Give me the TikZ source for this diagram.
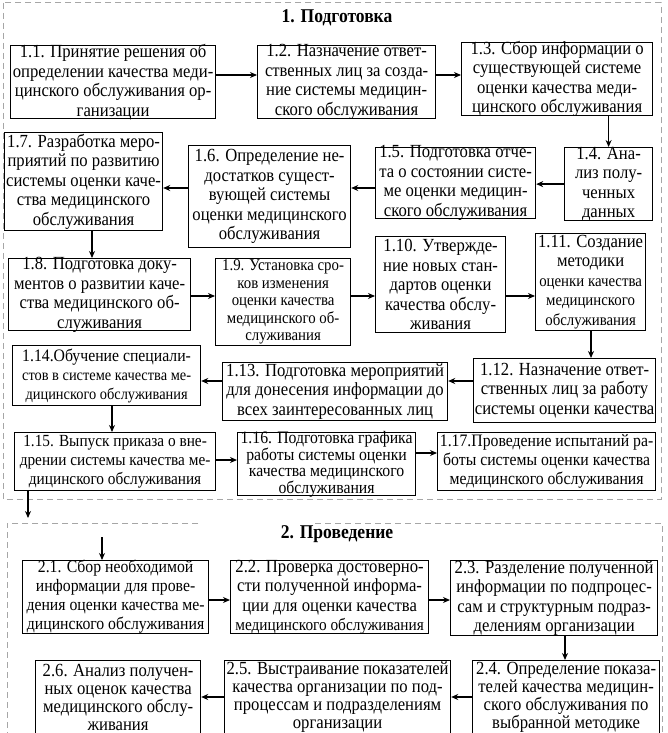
\documentclass[tikz,border=0pt]{standalone}
\usepackage{fontspec}
\setmainfont[FakeStretch=0.9]{Liberation Serif}
\usetikzlibrary{arrows.meta}
\newcommand\szA{\fontsize{18.5}{19.5}\selectfont}
\newcommand\szB{\fontsize{16.5}{17.5}\selectfont}
\newcommand\szC{\fontsize{16.5}{18}\selectfont}
\tikzset{
  box/.style={draw=black, line width=1.2pt, inner xsep=0pt, inner ysep=-2pt, align=center, anchor=north west, font=\szA},
  arr/.style={line width=1.3pt, -{Stealth[length=7pt,width=6pt]}},
  frame/.style={draw=gray!70, line width=1pt, dash pattern=on 6pt off 4pt},
  ttl/.style={font=\fontsize{19.5}{22}\selectfont\bfseries}
}
\begin{document}
\begin{tikzpicture}[x=1pt,y=-1pt]
\fill[white] (0,0) rectangle (667,733);
\clip (0,0) rectangle (667,733);
% frames
\draw[frame] (3,3) rectangle (661,499);
\draw[frame] (198,523) -- (7,523) -- (7,745);
\draw[frame] (315,523) -- (662,523) -- (662,745);
\node[ttl] (t1) at (337,18) {1. Подготовка};
\node[ttl] (t2) at (337,534) {2. Проведение};
% row 1
\node[box, minimum width=205, minimum height=73] (n11) at (10,45) {1.1. Принятие решения об\\определении качества меди-\\цинского обслуживания ор-\\ганизации};
\node[box, minimum width=178, minimum height=73] (n12) at (257,45) {1.2. Назначение ответ-\\ственных лиц за созда-\\ние системы медицин-\\ского обслуживания};
\node[box, minimum width=191, minimum height=73] (n13) at (461,42) {1.3. Сбор информации о\\существующей системе\\оценки качества меди-\\цинского обслуживания};
% row 2
\node[box, minimum width=88, minimum height=73] (n14) at (564,147) {1.4. Ана-\\лиз полу-\\ченных\\данных};
\node[box, minimum width=160, minimum height=71] (n15) at (375,147) {1.5. Подготовка отче-\\та о состоянии систе-\\ме оценки медицин-\\ского обслуживания};
\node[box, minimum width=162, minimum height=102] (n16) at (188,145) {1.6. Определение не-\\достатков сущест-\\вующей системы\\оценки медицинского\\обслуживания};
\node[box, minimum width=158, minimum height=98] (n17) at (4,132) {1.7. Разработка меро-\\приятий по развитию\\системы оценки каче-\\ства медицинского\\обслуживания};
% row 3
\node[box, minimum width=182, minimum height=72] (n18) at (8,258) {1.8. Подготовка доку-\\ментов о развитии каче-\\ства медицинского об-\\служивания};
\node[box, minimum width=135, minimum height=87, font=\szB] (n19) at (215,258) {1.9. Установка сро-\\ков изменения\\оценки качества\\медицинского об-\\служивания};
\node[box, minimum width=130, minimum height=96] (n110) at (375,236) {1.10. Утвержде-\\ние новых стан-\\дартов оценки\\качества обслу-\\живания};
\node[box, minimum width=110, minimum height=97] (n111) at (535,233) {1.11. Создание\\методики\\{\szC оценки качества}\\{\szC медицинского}\\{\szC обслуживания}};
% row 4
\node[box, minimum width=182, minimum height=64] (n112) at (473,358) {1.12. Назначение ответ-\\ственных лиц за работу\\системы оценки качества};
\node[box, minimum width=225, minimum height=58] (n113) at (222,362) {1.13. Подготовка мероприятий\\для донесения информации до\\всех заинтересованных лиц};
\node[box, minimum width=188, minimum height=60, font=\fontsize{17.5}{19}\selectfont] (n114) at (12,345) {1.14.Обучение специали-\\{\fontsize{16}{19}\selectfont стов в системе качества ме-}\\{\fontsize{16}{19}\selectfont дицинского обслуживания}};
% row 5
\node[box, minimum width=201, minimum height=58, font=\fontsize{17}{19}\selectfont] (n115) at (14,432) {1.15. Выпуск приказа о вне-\\дрении системы качества ме-\\дицинского обслуживания};
\node[box, minimum width=178, minimum height=63, font=\fontsize{17.5}{16.5}\selectfont] (n116) at (237,432) {1.16. Подготовка графика\\работы системы оценки\\качества медицинского\\обслуживания};
\node[box, minimum width=218, minimum height=58, font=\fontsize{17.5}{19}\selectfont] (n117) at (437,432) {1.17.Проведение испытаний ра-\\боты системы оценки качества\\медицинского обслуживания};
% stage 2
\node[box, minimum width=186, minimum height=73, font=\fontsize{17.5}{19}\selectfont] (n21) at (22,560) {2.1. Сбор необходимой\\информации для прове-\\дения оценки качества ме-\\дицинского обслуживания};
\node[box, minimum width=198, minimum height=73] (n22) at (230,560) {2.2. Проверка достоверно-\\сти полученной информа-\\ции для оценки качества\\{\fontsize{17}{19}\selectfont медицинского обслуживания}};
\node[box, minimum width=207, minimum height=75] (n23) at (450,560) {2.3. Разделение полученной\\информации по подпроцес-\\сам и структурным подраз-\\делениям организации};
\node[box, minimum width=187, minimum height=73, font=\fontsize{18.5}{18}\selectfont] (n24) at (472,660) {2.4. Определение показа-\\телей качества медицин-\\ского обслуживания по\\выбранной методике};
\node[box, minimum width=226, minimum height=73, font=\fontsize{18.5}{18}\selectfont] (n25) at (224,660) {2.5. Выстраивание показателей\\качества организации по под-\\процессам и подразделениям\\организации};
\node[box, minimum width=165, minimum height=73, font=\fontsize{18.5}{18}\selectfont] (n26) at (35,660) {2.6. Анализ получен-\\ных оценок качества\\медицинского обслу-\\живания};
% connectors
\draw[arr] (n11.east |- 0,75) -- (n12.west |- 0,75);
\draw[arr] (n12.east |- 0,75) -- (n13.west |- 0,75);
\draw[arr] (n13.south -| n14.north) -- (n14.north);
\draw[arr] (n14.west) -- (n15.east |- n14.west);
\draw[arr] (n15.west |- 0,188) -- (n16.east |- 0,188);
\draw[arr] (n16.west |- 0,188) -- (n17.east |- 0,188);
\draw[arr] (n17.south -| 92,0) -- (n18.north -| 92,0);
\draw[arr] (n18.east |- 0,296) -- (n19.west |- 0,296);
\draw[arr] (n19.east |- 0,296) -- (n110.west |- 0,296);
\draw[arr] (n110.east |- 0,296) -- (n111.west |- 0,296);
\draw[arr] (n111.south -| 591,0) -- (n112.north -| 591,0);
\draw[arr] (n112.west |- 0,381) -- (n113.east |- 0,381);
\draw[arr] (n113.west |- 0,381) -- (n114.east |- 0,381);
\draw[arr] (n114.south -| 112,0) -- (n115.north -| 112,0);
\draw[arr] (n115.east |- 0,460) -- (n116.west |- 0,460);
\draw[arr] (n116.east |- 0,453) -- (n117.west |- 0,453);
\coordinate (c1) at (28,518);
\draw[arr] (n115.south -| c1) -- (c1);
\coordinate (c2) at (102,537);
\draw[arr] (c2) -- (c2 |- n21.north);
\draw[arr] (n21.east |- 0,600) -- (n22.west |- 0,600);
\draw[arr] (n22.east |- 0,600) -- (n23.west |- 0,600);
\draw[arr] (n23.south -| 565,0) -- (n24.north -| 565,0);
\draw[arr] (n24.west |- 0,697) -- (n25.east |- 0,697);
\draw[arr] (n25.west |- 0,697) -- (n26.east |- 0,697);
\end{tikzpicture}
\end{document}
